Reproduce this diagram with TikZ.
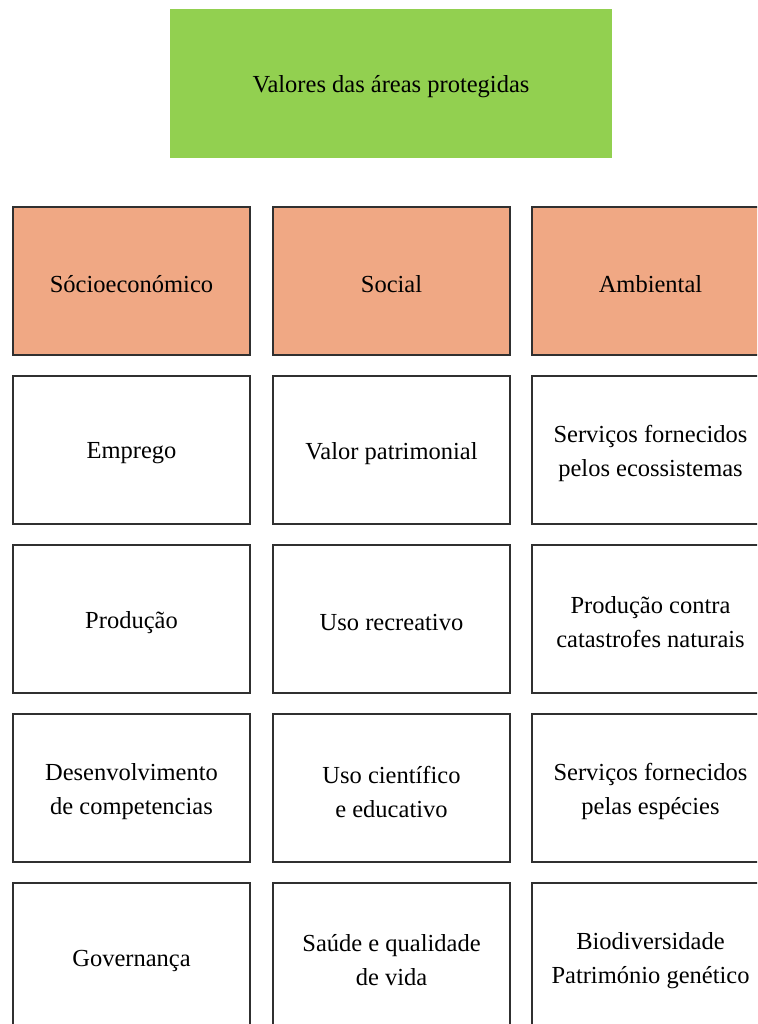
\documentclass[tikz,border=0pt]{standalone}
\usepackage{fontspec}
\setmainfont{Liberation Serif}
\definecolor{titlegreen}{HTML}{92D050}
\definecolor{hdrorange}{HTML}{F0A884}
\definecolor{edge}{HTML}{303030}
\newcommand\mkcell[4]{\node[#1] (#2) at (#3) {}; \node[txt] (#2t) at ([yshift=-3.5pt]#2.center) {#4};}
\begin{document}
\begin{tikzpicture}[x=1pt,y=-1pt,
  base/.style={rectangle, minimum width=237pt, minimum height=148pt, inner sep=0pt},
  txt/.style={align=center, font=\fontsize{24.5}{34}\selectfont, inner sep=0pt},
  titlebox/.style={base, fill=titlegreen, minimum width=442pt, minimum height=149pt},
  hdrbox/.style={base, draw=edge, line width=1.5pt, fill=hdrorange},
  cellbox/.style={base, draw=edge, line width=1.5pt, fill=white}]
\useasboundingbox (0,0) rectangle (757,1024);
\clip (0,0) rectangle (757,1024);
\mkcell{titlebox}{title}{391,83.5}{Valores das áreas protegidas}
\mkcell{hdrbox}{h1}{131.5,281}{Sócioeconómico}
\mkcell{hdrbox}{h2}{391.5,281}{Social}
\mkcell{hdrbox}{h3}{650.5,281}{Ambiental}
\mkcell{cellbox}{a1}{131.5,450}{Emprego}
\mkcell{cellbox}{b1}{391.5,450}{Valor patrimonial}
\mkcell{cellbox}{c1}{650.5,450}{Serviços fornecidos\\pelos ecossistemas}
\mkcell{cellbox}{a2}{131.5,619}{Produção}
\mkcell{cellbox}{b2}{391.5,619}{Uso recreativo}
\mkcell{cellbox}{c2}{650.5,619}{Produção contra\\catastrofes naturais}
\mkcell{cellbox}{a3}{131.5,788}{Desenvolvimento\\de competencias}
\mkcell{cellbox}{b3}{391.5,788}{Uso científico\\e educativo}
\mkcell{cellbox}{c3}{650.5,788}{Serviços fornecidos\\pelas espécies}
\mkcell{cellbox}{a4}{131.5,957}{Governança}
\mkcell{cellbox}{b4}{391.5,957}{Saúde e qualidade\\de vida}
\mkcell{cellbox}{c4}{650.5,957}{Biodiversidade\\Património genético}
\end{tikzpicture}
\end{document}
